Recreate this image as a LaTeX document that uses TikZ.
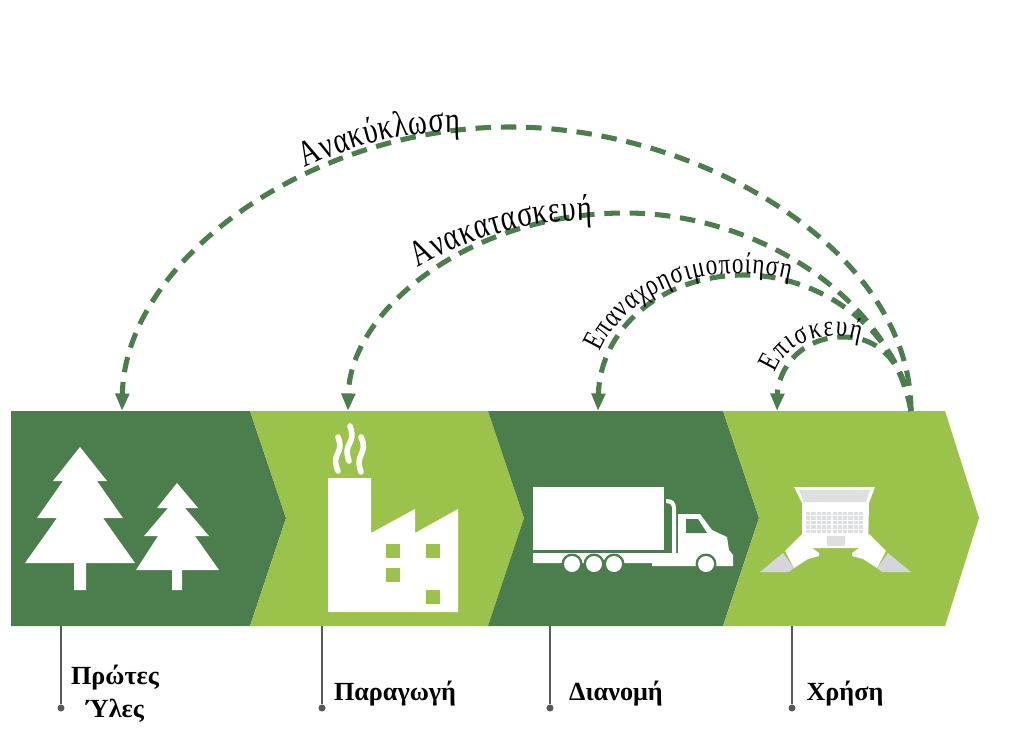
\documentclass[tikz,border=0pt]{standalone}
\usepackage{fontspec}
\setmainfont{Liberation Serif}
\newfontfamily\arcserif[FakeStretch=0.78]{Liberation Serif}
\usetikzlibrary{arrows.meta, decorations.text}
\definecolor{chaindark}{HTML}{4C7D4C}
\definecolor{chainlight}{HTML}{9BC24B}
\definecolor{leadgray}{HTML}{58585A}
\definecolor{keygray}{HTML}{DEDFE0}
\definecolor{sleevegray}{HTML}{D4D6DC}
\tikzstyle{loopline} = [line width=3.6pt, draw=chaindark, dash pattern=on 11pt off 7pt, -{Triangle[length=12.5pt,width=9.5pt,fill=chaindark]}]
\tikzstyle{leader} = [line width=1.5pt, draw=leadgray]
\tikzstyle{leaddot} = [circle, fill=leadgray, inner sep=0pt, minimum size=5pt]
\tikzstyle{steplabel} = [font=\bfseries\fontsize{18.6}{23.5}\selectfont, align=center, inner sep=0pt]
\tikzstyle{icon} = [fill=white, draw=none]
\tikzstyle{smoke} = [draw=white, line width=4pt, line cap=round]
\newcommand{\arcfont}{\arcserif\fontsize{26}{26}\selectfont}
\newcommand{\arcfontsmall}{\arcserif\fontsize{21}{22}\selectfont}

\begin{document}
\begin{tikzpicture}[x=0.025cm, y=-0.025cm]
	\useasboundingbox (0,0) rectangle (1024,742);

	% the four chain steps
	\fill[chaindark] (11,411) -- (250,411) -- (286,518) -- (250,626) -- (11,626) -- cycle;
	\fill[chainlight] (250,411) -- (488,411) -- (524,518) -- (488,626) -- (250,626) -- (286,518) -- cycle;
	\fill[chaindark] (488,411) -- (723,411) -- (759,518) -- (723,626) -- (488,626) -- (524,518) -- cycle;
	\fill[chainlight] (723,411) -- (945,411) -- (979,518) -- (945,626) -- (723,626) -- (759,518) -- cycle;

	\coordinate (usestart) at (911,411);
	\coordinate (rawin) at (122,411);
	\coordinate (plantin) at (348,411);
	\coordinate (truckin) at (598,411);
	\coordinate (usein) at (777,411);

	% return loops
	\draw[loopline] (usestart) .. controls (911,250) and (700,127) .. (510,127) .. controls (310,127) and (125,260) .. (rawin);
	\draw[loopline] (usestart) .. controls (890,300) and (760,213) .. (625,213) .. controls (470,213) and (350,310) .. (plantin);
	\draw[loopline] (usestart) .. controls (900,330) and (820,275) .. (745,275) .. controls (660,275) and (600,330) .. (truckin);
	\draw[loopline] (usestart) .. controls (905,370) and (885,337) .. (843,337) .. controls (800,337) and (778,370) .. (usein);

	\path[decorate, decoration={text along path, text align=fit to path, text={|\arcfont|Ανακύκλωση}}]
		(305,168) .. controls (350,146) and (405,131) .. (460,132);
	\path[decorate, decoration={text along path, text align=fit to path, text={|\arcfont|Ανακατασκευή}}]
		(418,268) .. controls (465,240) and (525,220) .. (592,220);
	\path[decorate, decoration={text along path, text align=fit to path, text={|\arcfontsmall|Επαναχρησιμοποίηση}}]
		(600,352) .. controls (625,295) and (700,258) .. (790,279);
	\path[decorate, decoration={text along path, text align=fit to path, text={|\arcfontsmall|Επισκευή}}]
		(775,373) .. controls (785,345) and (820,328) .. (860,340);

	% trees
	\fill[icon] (80,447) -- (107,481) -- (97,481) -- (123,518) -- (103,518) -- (135,563) -- (86,563) -- (86,590) -- (74,590) -- (74,563) -- (25,563) -- (57,518) -- (37,518) -- (63,481) -- (53,481) -- cycle;
	\fill[icon] (177,483) -- (198,508) -- (185,508) -- (209,536) -- (195,536) -- (219,570) -- (182,570) -- (182,590) -- (172,590) -- (172,570) -- (136,570) -- (158,536) -- (144,536) -- (168,508) -- (157,508) -- cycle;

	% factory
	\fill[icon] (328,478) -- (371,478) -- (371,533) -- (415,509) -- (415,533) -- (458,509) -- (458,612) -- (328,612) -- cycle;
	\foreach \wx/\wy in {386/544, 426/544, 386/568, 426/590}
		\fill[chainlight] (\wx,\wy) rectangle +(13.5,13.5);
	\draw[smoke] (338,471) .. controls (330,452) and (345,455) .. (338,437);
	\draw[smoke] (349,461) .. controls (342,442) and (357,445) .. (350,426);
	\draw[smoke] (361,472) .. controls (354,452) and (369,455) .. (361,437);

	% truck
	\fill[icon] (533,487) rectangle (664,550);
	\fill[icon] (533,553) -- (672,553) -- (672,507) .. controls (672,504) and (669,503) .. (666,503) -- (666,499) .. controls (673,499) and (676,502) .. (676,508) -- (676,553) -- (678,553) -- (678,514) -- (700,514) -- (712,530) -- (727,537) -- (729,550) -- (733,555) -- (733,566) -- (652,566) -- (652,563) -- (533,563) -- cycle;
	\fill[chaindark] (686,519) -- (698,519) -- (707,533) -- (686,533) -- cycle;
	\foreach \wheel in {572, 594, 614, 706} {
		\fill[chaindark] (\wheel,564) circle[radius=10.5];
		\fill[white] (\wheel,564) circle[radius=8];
	}

	% laptop and hands
	\fill[icon] (794,487) -- (875,487) -- (869,503) -- (868,548) -- (802,548) -- (802,503) -- cycle;
	\fill[keygray] (799,490) -- (870,490) -- (866,502) -- (804,502) -- cycle;
	\foreach \kx in {0,...,10}
		\foreach \ky in {0,...,4}
			\fill[keygray] (806+\kx*5.3,512+\ky*4.4) rectangle +(4.2,3.3);
	\fill[keygray] (827,536) rectangle (845,546);
	\fill[icon] (785,551) -- (802,534) -- (812,548) -- (819,553) -- (819,556) -- (808,559) -- (794,568) -- cycle;
	\fill[icon] (886,551) -- (869,534) -- (859,548) -- (852,553) -- (852,556) -- (863,559) -- (877,568) -- cycle;
	\fill[sleevegray] (760,572) -- (783,553) -- (794,568) -- (789,572) -- cycle;
	\fill[sleevegray] (911,572) -- (888,553) -- (877,568) -- (882,572) -- cycle;

	% leaders and step names
	\coordinate (rawbase) at (61,626);
	\coordinate (plantbase) at (322,626);
	\coordinate (truckbase) at (550,626);
	\coordinate (usebase) at (792,626);
	\node (rawdot) [leaddot] at (61,708) {};
	\node (plantdot) [leaddot] at (322,708) {};
	\node (truckdot) [leaddot] at (550,708) {};
	\node (usedot) [leaddot] at (792,708) {};
	\draw[leader] (rawbase) -- (rawdot);
	\draw[leader] (plantbase) -- (plantdot);
	\draw[leader] (truckbase) -- (truckdot);
	\draw[leader] (usebase) -- (usedot);
	\node (rawname) [steplabel] at (115,694) {Πρώτες\\Ύλες};
	\node (plantname) [steplabel] at (395,694) {Παραγωγή};
	\node (truckname) [steplabel] at (616,694) {Διανομή};
	\node (usename) [steplabel] at (845,694) {Χρήση};
\end{tikzpicture}
\end{document}
